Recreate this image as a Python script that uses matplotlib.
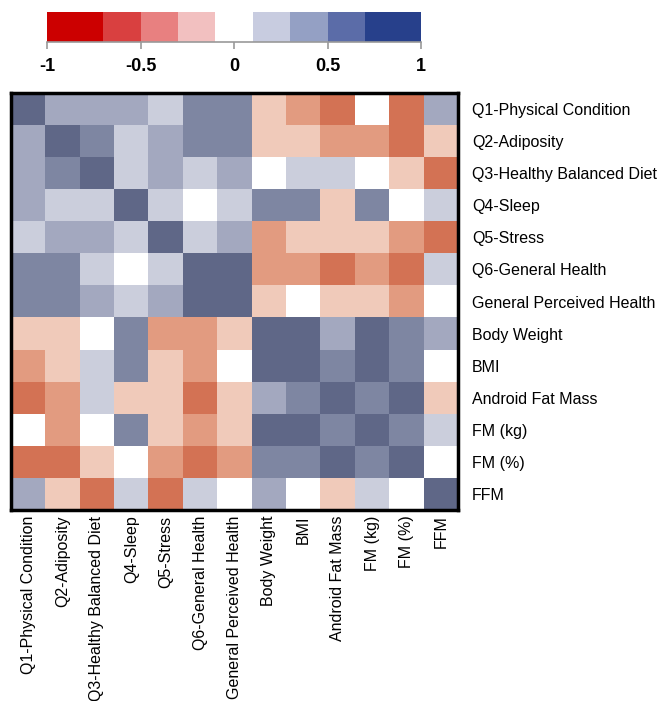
import numpy as np
import matplotlib
matplotlib.use("Agg")
import matplotlib.pyplot as plt
from matplotlib.colors import ListedColormap, BoundaryNorm
from matplotlib.cm import ScalarMappable


# =========================
# Data
# =========================

labels = [
    "Q1-Physical Condition",
    "Q2-Adiposity",
    "Q3-Healthy Balanced Diet",
    "Q4-Sleep",
    "Q5-Stress",
    "Q6-General Health",
    "General Perceived Health",
    "Body Weight",
    "BMI",
    "Android Fat Mass",
    "FM (kg)",
    "FM (%)",
    "FFM",
]

# correlation estimates (rows follow labels)
corr = [
    [1.0, 0.4, 0.4, 0.4, 0.2, 0.6, 0.6, -0.2, -0.4, -0.6, 0.0, -0.6, 0.4],
    [0.4, 1.0, 0.6, 0.2, 0.4, 0.6, 0.6, -0.2, -0.2, -0.4, -0.4, -0.6, -0.2],
    [0.4, 0.6, 1.0, 0.2, 0.4, 0.2, 0.4, 0.0, 0.2, 0.2, 0.0, -0.2, -0.6],
    [0.4, 0.2, 0.2, 1.0, 0.2, 0.0, 0.2, 0.6, 0.6, -0.2, 0.6, 0.0, 0.2],
    [0.2, 0.4, 0.4, 0.2, 1.0, 0.2, 0.4, -0.4, -0.2, -0.2, -0.2, -0.4, -0.6],
    [0.6, 0.6, 0.2, 0.0, 0.2, 1.0, 0.8, -0.4, -0.4, -0.6, -0.4, -0.6, 0.2],
    [0.6, 0.6, 0.4, 0.2, 0.4, 0.8, 1.0, -0.2, 0.0, -0.2, -0.2, -0.4, 0.0],
    [-0.2, -0.2, 0.0, 0.6, -0.4, -0.4, -0.2, 1.0, 0.8, 0.4, 0.8, 0.6, 0.4],
    [-0.4, -0.2, 0.2, 0.6, -0.2, -0.4, 0.0, 0.8, 1.0, 0.6, 0.8, 0.6, 0.0],
    [-0.6, -0.4, 0.2, -0.2, -0.2, -0.6, -0.2, 0.4, 0.6, 1.0, 0.6, 0.8, -0.2],
    [0.0, -0.4, 0.0, 0.6, -0.2, -0.4, -0.2, 0.8, 0.8, 0.6, 1.0, 0.6, 0.2],
    [-0.6, -0.6, -0.2, 0.0, -0.4, -0.6, -0.4, 0.6, 0.6, 0.8, 0.6, 1.0, 0.0],
    [0.4, -0.2, -0.6, 0.2, -0.6, 0.2, 0.0, 0.4, 0.0, -0.2, 0.2, 0.0, 1.0],
]

bounds = [-1, -0.7, -0.5, -0.3, -0.1, 0.1, 0.3, 0.5, 0.7, 1]
cbar_ticks = [-1, -0.5, 0, 0.5, 1]

cell_colors = ["#B84A33", "#D37254", "#E29B80", "#F0CABA", "#FFFFFF",
               "#CBCEDC", "#A3A8BF", "#7E86A2", "#5F6787"]
bar_colors = ["#CC0000", "#D94040", "#E88080", "#F2C0C0", "#FFFFFF",
              "#C8CCE0", "#94A0C4", "#5B6CA8", "#27408B"]


# =========================
# Plot
# =========================

plt.rcParams["font.family"] = ["Liberation Sans", "DejaVu Sans"]

fig = plt.figure(figsize=(6.62, 7.01), dpi=100)

ax = fig.add_axes([0.0166, 0.2725, 0.6752, 0.5948])
norm = BoundaryNorm(bounds, len(cell_colors))
ax.imshow(np.array(corr), cmap=ListedColormap(cell_colors), norm=norm,
          aspect="auto", interpolation="nearest")

ax.set_xticks(range(len(labels)))
ax.set_xticklabels(labels, rotation=90, fontsize=11.5)
ax.set_yticks(range(len(labels)))
ax.set_yticklabels(labels, fontsize=11.5)
ax.yaxis.tick_right()
ax.tick_params(axis="x", length=0, pad=4)
ax.tick_params(axis="y", length=0, pad=10)
for spine in ax.spines.values():
    spine.set_linewidth(2.5)
    spine.set_color("black")

# colour key on top
cax = fig.add_axes([0.071, 0.9405, 0.565, 0.0424])
sm = ScalarMappable(norm=BoundaryNorm(bounds, len(bar_colors)),
                    cmap=ListedColormap(bar_colors))
cb = fig.colorbar(sm, cax=cax, orientation="horizontal",
                  boundaries=bounds, spacing="proportional", ticks=cbar_ticks)
cb.minorticks_off()
cb.outline.set_visible(False)
cax.spines["bottom"].set_visible(True)
cax.spines["bottom"].set_color("#999999")
cax.spines["bottom"].set_linewidth(1.2)
cax.tick_params(axis="x", which="major", length=5, color="#999999", width=1.2, pad=7)
cax.tick_params(axis="x", which="minor", length=0)
cb.set_ticklabels(["-1", "-0.5", "0", "0.5", "1"])
for t in cax.get_xticklabels():
    t.set_fontsize(13)
    t.set_fontweight("bold")

fig.savefig("out.png", dpi=100)
